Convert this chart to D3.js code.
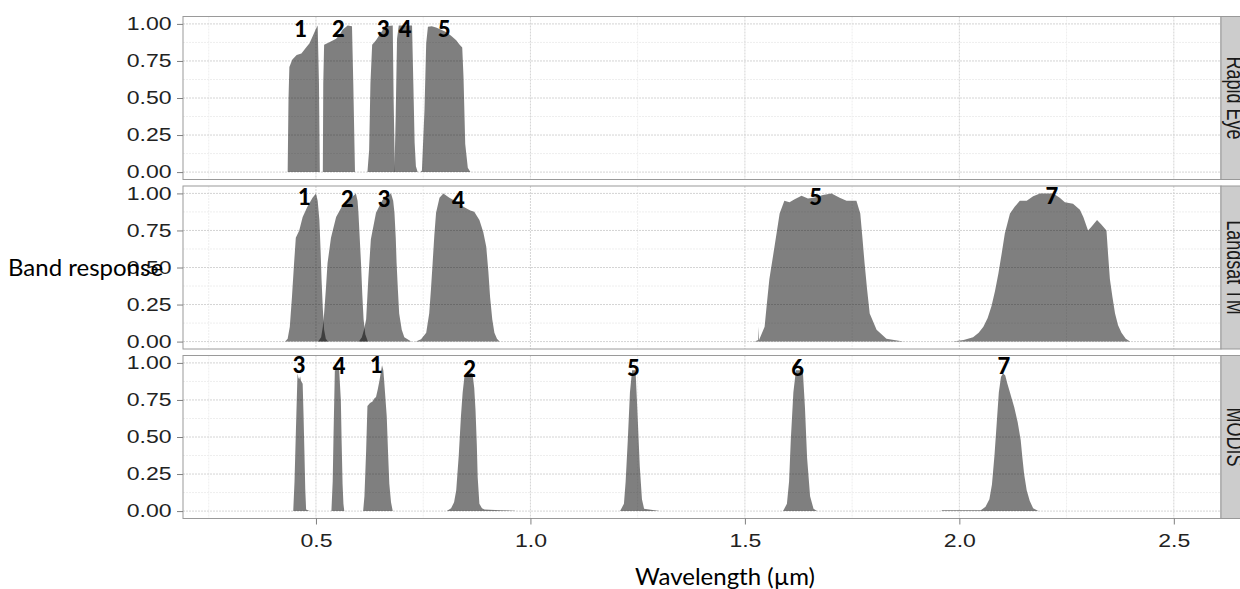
<!DOCTYPE html>
<html>
<head>
<meta charset="utf-8">
<script src="https://cdn.jsdelivr.net/npm/d3@7"></script>
<style>
body { margin: 0; background: #fff; }
</style>
</head>
<body>
<svg id="chart"></svg>
<script>
// spectral response curves, [wavelength (um), response]
var re1 = [[0.434,0],[0.436,0.5],[0.438,0.71],[0.445,0.76],[0.455,0.79],[0.466,0.80],[0.477,0.84],[0.485,0.87],[0.492,0.915],[0.499,0.96],[0.504,0.99],[0.507,0.6],[0.509,0]];
var re2 = [[0.516,0],[0.517,0.6],[0.519,0.86],[0.530,0.875],[0.547,0.90],[0.556,0.93],[0.562,0.96],[0.574,0.99],[0.584,0.985],[0.587,0.6],[0.591,0]];
var re3 = [[0.620,0],[0.624,0.15],[0.627,0.6],[0.631,0.86],[0.640,0.89],[0.648,0.925],[0.656,0.96],[0.663,0.985],[0.679,0.99],[0.681,0.5],[0.684,0]];
var re4 = [[0.683,0],[0.686,0.4],[0.689,0.9],[0.693,0.99],[0.724,0.99],[0.727,0.6],[0.730,0.2],[0.733,0.04],[0.737,0]];
var re5 = [[0.744,0],[0.747,0.01],[0.753,0.42],[0.757,0.87],[0.761,0.98],[0.770,0.985],[0.780,0.975],[0.792,0.96],[0.803,0.945],[0.815,0.92],[0.827,0.89],[0.835,0.86],[0.841,0.84],[0.844,0.64],[0.848,0.19],[0.854,0.03],[0.860,0]];

var tm1 = [[0.428,0],[0.434,0.02],[0.439,0.10],[0.444,0.30],[0.449,0.53],[0.453,0.70],[0.461,0.75],[0.469,0.84],[0.480,0.91],[0.492,0.97],[0.500,1.0],[0.504,0.95],[0.508,0.82],[0.511,0.6],[0.513,0.42],[0.516,0.22],[0.519,0.08],[0.523,0.02],[0.528,0]];
var tm2 = [[0.505,0],[0.512,0.03],[0.516,0.10],[0.519,0.19],[0.523,0.35],[0.527,0.53],[0.535,0.70],[0.547,0.84],[0.562,0.92],[0.582,0.97],[0.593,1.0],[0.597,0.95],[0.599,0.87],[0.602,0.7],[0.605,0.53],[0.608,0.32],[0.611,0.15],[0.615,0.05],[0.621,0]];
var tm3 = [[0.600,0],[0.607,0.03],[0.612,0.08],[0.617,0.15],[0.622,0.42],[0.628,0.69],[0.640,0.87],[0.655,0.955],[0.675,1.0],[0.680,0.95],[0.683,0.87],[0.686,0.7],[0.688,0.53],[0.691,0.35],[0.694,0.19],[0.700,0.08],[0.706,0.03],[0.722,0]];
var tm4 = [[0.733,0],[0.745,0.015],[0.757,0.06],[0.764,0.19],[0.768,0.35],[0.772,0.53],[0.776,0.72],[0.780,0.87],[0.788,0.97],[0.797,1.0],[0.811,0.97],[0.827,0.945],[0.838,0.92],[0.850,0.90],[0.860,0.885],[0.869,0.876],[0.881,0.82],[0.890,0.74],[0.897,0.64],[0.902,0.47],[0.906,0.30],[0.911,0.15],[0.916,0.06],[0.922,0.02],[0.928,0]];
var tm5 = [[1.523,0],[1.531,0.01],[1.532,0.10],[1.533,0.01],[1.546,0.10],[1.551,0.25],[1.557,0.42],[1.569,0.64],[1.581,0.865],[1.592,0.95],[1.604,0.94],[1.616,0.96],[1.632,0.985],[1.647,0.966],[1.663,0.973],[1.682,0.99],[1.702,1.0],[1.721,0.97],[1.737,0.95],[1.760,0.95],[1.769,0.865],[1.774,0.70],[1.779,0.53],[1.785,0.35],[1.791,0.19],[1.807,0.08],[1.830,0.02],[1.869,0]];
var tm7 = [[1.985,0],[2.010,0.01],[2.032,0.03],[2.045,0.06],[2.056,0.10],[2.066,0.16],[2.075,0.24],[2.083,0.34],[2.091,0.46],[2.099,0.60],[2.106,0.73],[2.118,0.865],[2.129,0.91],[2.141,0.95],[2.157,0.95],[2.172,0.98],[2.188,1.0],[2.219,1.0],[2.234,0.97],[2.246,0.94],[2.265,0.93],[2.281,0.89],[2.289,0.84],[2.300,0.75],[2.308,0.775],[2.321,0.82],[2.331,0.79],[2.343,0.75],[2.347,0.58],[2.351,0.42],[2.357,0.30],[2.363,0.19],[2.370,0.11],[2.378,0.06],[2.388,0.02],[2.398,0]];

var md3 = [[0.447,0],[0.450,0.2],[0.453,0.52],[0.457,0.93],[0.459,0.90],[0.461,0.89],[0.463,0.91],[0.465,0.88],[0.469,0.86],[0.471,0.65],[0.473,0.41],[0.475,0.15],[0.477,0.01],[0.485,0]];
var md4 = [[0.536,0],[0.539,0.2],[0.541,0.52],[0.544,0.95],[0.554,0.955],[0.558,0.75],[0.560,0.45],[0.562,0.185],[0.564,0.05],[0.566,0]];
var md1 = [[0.610,0],[0.613,0.1],[0.617,0.41],[0.620,0.71],[0.626,0.73],[0.632,0.74],[0.636,0.76],[0.640,0.77],[0.644,0.82],[0.648,0.88],[0.654,0.985],[0.657,0.95],[0.659,0.88],[0.665,0.64],[0.668,0.40],[0.671,0.185],[0.675,0.06],[0.679,0]];
var md2 = [[0.805,0],[0.815,0.02],[0.822,0.06],[0.827,0.14],[0.833,0.38],[0.838,0.64],[0.842,0.80],[0.846,0.905],[0.854,0.94],[0.865,0.93],[0.869,0.83],[0.872,0.68],[0.875,0.45],[0.877,0.23],[0.881,0.05],[0.887,0.02],[0.893,0.01],[0.930,0.005],[0.963,0.003],[0.965,0]];
var md5 = [[1.209,0],[1.218,0.05],[1.222,0.2],[1.227,0.48],[1.232,0.8],[1.237,0.95],[1.245,0.95],[1.249,0.7],[1.255,0.30],[1.260,0.08],[1.265,0.015],[1.301,0]];
var md6 = [[1.589,0],[1.598,0.05],[1.603,0.2],[1.607,0.48],[1.613,0.8],[1.619,0.95],[1.635,0.95],[1.640,0.7],[1.645,0.36],[1.652,0.10],[1.660,0.015],[1.668,0]];
var md7 = [[1.958,0],[1.960,0.005],[2.050,0.005],[2.061,0.03],[2.070,0.08],[2.076,0.18],[2.082,0.38],[2.087,0.59],[2.092,0.80],[2.097,0.905],[2.102,0.93],[2.107,0.915],[2.112,0.86],[2.117,0.81],[2.122,0.76],[2.128,0.70],[2.136,0.60],[2.143,0.48],[2.147,0.36],[2.151,0.25],[2.157,0.14],[2.164,0.07],[2.172,0.02],[2.184,0]];

// band number labels
var reLabels = ["1", "2", "3", "4", "5"];
var reLabelX = [0.464, 0.552, 0.657, 0.708, 0.799];
var reLabelY = [0.965, 0.968, 0.965, 0.965, 0.968];
var tmLabels = ["1", "2", "3", "4", "5", "7"];
var tmLabelX = [0.473, 0.573, 0.659, 0.832, 1.665, 2.216];
var tmLabelY = [0.977, 0.965, 0.965, 0.955, 0.977, 0.98];
var mdLabels = ["3", "4", "1", "2", "5", "6", "7"];
var mdLabelX = [0.461, 0.554, 0.641, 0.858, 1.240, 1.623, 2.104];
var mdLabelY = [0.985, 0.978, 0.985, 0.955, 0.965, 0.965, 0.98];

var sensorNames = ["Rapid Eye", "Landsat TM", "MODIS"];

var xMajor = [0.5, 1.0, 1.5, 2.0, 2.5];
var xMinor = [0.25, 0.75, 1.25, 1.75, 2.25];
var yMajor = [0, 0.25, 0.5, 0.75, 1];
var yMinor = [0.125, 0.375, 0.625, 0.875];

var panels = [
	{ name: sensorNames[0], bands: [re1, re2, re3, re4, re5], labels: reLabels, lx: reLabelX, ly: reLabelY },
	{ name: sensorNames[1], bands: [tm1, tm2, tm3, tm4, tm5, tm7], labels: tmLabels, lx: tmLabelX, ly: tmLabelY },
	{ name: sensorNames[2], bands: [md3, md4, md1, md2, md5, md6, md7], labels: mdLabels, lx: mdLabelX, ly: mdLabelY }
];

const width = 1240;
const height = 589;
var left = 183, right = 1221, top0 = 16.5, panelH = 163, gap = 6.5;
var stretch = 1.28; // tick text in the picture is widened

var svg = d3.select("#chart").attr("width", width).attr("height", height);

var x = d3.scaleLinear().domain([0.19, 2.61]).range([left, right]);

panels.forEach(function (p, i) {
	var t = top0 + i * (panelH + gap);
	var y = d3.scaleLinear().domain([-0.05, 1.05]).range([t + panelH, t]);
	var g = svg.append("g");

	g.append("rect")
		.attr("x", left).attr("y", t)
		.attr("width", right - left).attr("height", panelH)
		.attr("fill", "white");

	// grid
	g.selectAll(".vmin").data(xMinor).enter().append("line")
		.attr("x1", x).attr("x2", x).attr("y1", t).attr("y2", t + panelH)
		.attr("stroke", "#eeeeee").attr("stroke-dasharray", "2,1");
	g.selectAll(".hmin").data(yMinor).enter().append("line")
		.attr("x1", left).attr("x2", right).attr("y1", y).attr("y2", y)
		.attr("stroke", "#eeeeee").attr("stroke-dasharray", "2,1");
	g.selectAll(".vmaj").data(xMajor).enter().append("line")
		.attr("x1", x).attr("x2", x).attr("y1", t).attr("y2", t + panelH)
		.attr("stroke", "#d4d4d4").attr("stroke-dasharray", "2,1");
	g.selectAll(".hmaj").data(yMajor).enter().append("line")
		.attr("x1", left).attr("x2", right).attr("y1", y).attr("y2", y)
		.attr("stroke", "#d4d4d4").attr("stroke-dasharray", "2,1");

	var area = d3.area()
		.x(function (d) { return x(d[0]); })
		.y0(y(0))
		.y1(function (d) { return y(d[1]); });

	g.selectAll("path.band").data(p.bands).enter().append("path")
		.attr("class", "band")
		.attr("d", area)
		.attr("fill", "#000")
		.attr("fill-opacity", 0.5);

	g.append("rect")
		.attr("x", left).attr("y", t)
		.attr("width", right - left).attr("height", panelH)
		.attr("fill", "none").attr("stroke", "#9a9a9a");

	// strip on the right
	g.append("rect")
		.attr("x", right).attr("y", t)
		.attr("width", 30).attr("height", panelH)
		.attr("fill", "#cccccc").attr("stroke", "#999999");
	g.append("text")
		.attr("transform", "translate(1226.5," + (t + panelH / 2) + ") scale(" + stretch + ",1) rotate(90)")
		.attr("text-anchor", "middle")
		.attr("font-family", "Liberation Sans, Arial, sans-serif")
		.attr("font-size", 18)
		.attr("fill", "#1a1a1a")
		.text(p.name);

	// y axis
	var ay = g.append("g")
		.attr("transform", "translate(" + left + ",0)")
		.call(d3.axisLeft(y).tickValues(yMajor).tickFormat(d3.format(".2f")).tickSize(6).tickPadding(3));
	ay.select(".domain").remove();
	ay.selectAll("line").attr("stroke", "#7f7f7f");
	ay.selectAll("text")
		.attr("transform", "scale(" + stretch + ",1)")
		.attr("font-family", "Liberation Sans, Arial, sans-serif")
		.attr("font-size", 18)
		.attr("fill", "#222");

	// band numbers
	g.selectAll("text.num").data(p.labels).enter().append("text")
		.attr("class", "num")
		.attr("x", function (d, j) { return x(p.lx[j]); })
		.attr("y", function (d, j) { return y(p.ly[j]); })
		.attr("dy", "0.36em")
		.attr("text-anchor", "middle")
		.attr("font-family", "Lato, sans-serif")
		.attr("font-weight", "900")
		.attr("font-size", 22)
		.attr("fill", "#000")
		.text(function (d) { return d; });
});

var bottom = top0 + 2 * (panelH + gap) + panelH;
var ax = svg.append("g")
	.attr("transform", "translate(0," + bottom + ")")
	.call(d3.axisBottom(x).tickValues(xMajor).tickFormat(d3.format(".1f")).tickSize(6).tickPadding(10));
ax.select(".domain").remove();
ax.selectAll("line").attr("stroke", "#7f7f7f");
ax.selectAll("text")
	.attr("transform", "scale(" + stretch + ",1)")
	.attr("font-family", "Liberation Sans, Arial, sans-serif")
	.attr("font-size", 18)
	.attr("fill", "#222");

svg.append("text")
	.attr("x", 8).attr("y", 276)
	.attr("font-family", "Lato, sans-serif")
	.attr("font-size", 24)
	.attr("fill", "#000")
	.text("Band response");

svg.append("text")
	.attr("x", 725).attr("y", 585)
	.attr("text-anchor", "middle")
	.attr("font-family", "Lato, sans-serif")
	.attr("font-size", 24)
	.attr("fill", "#000")
	.text("Wavelength (µm)");
</script>
</body>
</html>
